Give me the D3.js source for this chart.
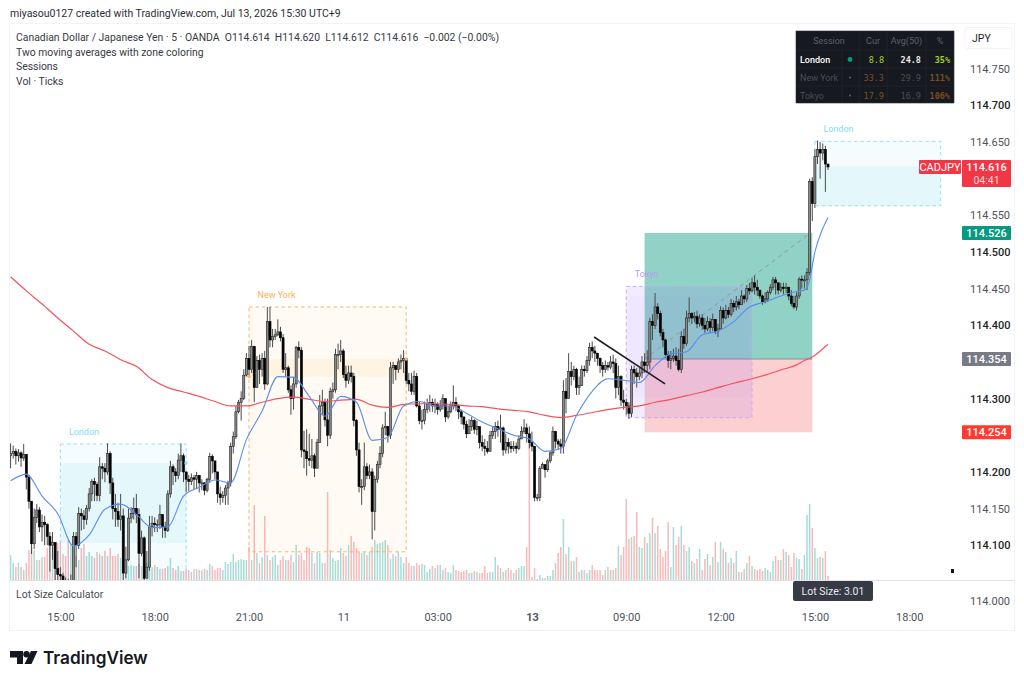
<!DOCTYPE html>
<html>
<head>
<meta charset="utf-8">
<title>CADJPY 5m</title>
<script src="https://cdnjs.cloudflare.com/ajax/libs/d3/7.8.5/d3.min.js"></script>
<style>
  html, body { margin: 0; padding: 0; background: #fff; }
  svg { display: block; }
  text { font-family: Roboto, "Open Sans", sans-serif; }
</style>
</head>
<body>
<svg id="chart" width="1024" height="684"></svg>
<script>
// All prices are in points above 114.000 (236 means 114.236).
const closes = [
  225,228,222,226,219,224,193,160,102,138,148,125,131,128,112,100,104,68,60,58,
  52,50,48,52,112,100,143,140,135,150,170,187,183,168,207,205,200,225,185,150,
  146,135,140,62,80,137,143,150,142,89,110,55,70,125,130,128,128,142,125,120,
  170,207,200,195,216,222,200,190,187,192,190,195,185,185,175,190,221,215,200,170,
  165,168,178,185,235,248,282,295,300,332,355,340,371,315,352,340,355,320,405,380,
  385,387,391,383,340,342,312,300,320,370,366,230,228,218,216,222,205,240,290,295,
  271,250,310,312,360,360,365,333,325,335,330,270,230,180,180,207,195,200,146,190,
  210,225,260,262,250,342,345,340,350,352,355,325,320,310,330,290,270,270,285,292,
  295,290,292,285,290,300,275,282,290,295,290,282,275,265,252,262,270,258,262,240,
  235,232,228,250,255,262,258,260,230,240,235,232,235,232,245,255,260,252,240,235,
  165,165,205,210,203,215,226,255,242,238,235,310,300,337,330,340,315,318,340,338,
  352,370,365,362,355,345,340,345,343,350,348,315,330,298,295,290,280,340,335,330,
  335,350,345,350,405,400,425,416,390,380,360,352,355,358,352,340,385,375,410,416,
  410,412,402,410,400,395,405,397,408,392,395,420,410,420,415,430,425,432,428,440,
  436,450,447,458,452,448,440,432,436,445,452,462,458,448,452,450,452,440,430,425,
  440,463,462,462,472,596,566,630,640,635,640,620,616
];
const highs = [
  239,236,232,231,228,238,200,196,157,150,156,152,142,140,130,118,118,100,92,70,
  62,56,54,60,118,118,152,150,148,155,178,190,192,186,220,212,212,239,228,192,
  170,158,170,150,98,150,152,165,170,150,120,112,92,140,140,138,135,155,140,132,
  175,215,210,205,225,239,225,196,196,198,196,200,196,190,186,192,226,224,208,180,
  180,174,182,188,240,255,290,298,310,340,362,372,380,372,358,360,362,365,425,425,
  395,395,408,398,388,362,345,318,330,372,378,370,256,258,252,245,225,245,305,312,
  300,300,315,322,368,375,380,368,345,345,345,335,272,240,190,240,212,210,205,195,
  215,235,265,282,262,350,350,345,355,360,366,355,335,335,338,335,296,285,296,300,
  305,300,300,295,298,306,288,290,296,318,302,292,285,275,270,272,275,272,270,255,
  250,245,242,256,262,268,270,278,262,252,246,242,242,240,250,262,272,266,262,255,
  235,170,208,213,208,218,228,262,256,245,245,325,328,362,350,345,342,330,345,345,
  358,376,378,372,362,356,350,352,350,358,360,355,345,332,312,300,295,345,345,342,
  342,358,362,366,410,415,444,430,420,395,382,365,365,368,370,368,392,395,420,438,
  418,418,420,415,415,410,412,410,416,408,402,426,424,428,425,436,434,440,436,448,
  442,455,458,465,468,462,448,442,445,448,456,466,466,458,458,458,458,452,448,440,
  445,466,468,468,478,600,602,640,652,650,648,645,620
];
const lows = [
  205,218,210,214,207,215,176,150,88,95,130,118,105,100,100,64,80,40,40,40,
  40,40,40,40,48,70,95,120,122,128,146,160,160,160,160,190,186,196,170,135,
  125,125,120,50,55,78,130,135,130,55,85,52,58,65,112,118,118,122,110,110,
  118,165,182,186,190,200,186,172,174,182,176,178,172,175,168,172,185,198,190,158,
  155,158,155,155,180,225,245,280,270,298,330,332,335,295,318,320,330,312,318,370,
  370,380,385,378,335,330,308,278,285,315,355,220,205,195,208,205,193,210,240,278,
  262,235,245,300,308,340,350,328,315,320,322,262,222,172,155,175,190,190,108,120,
  185,205,220,250,240,245,320,325,335,340,335,320,310,305,305,288,265,258,265,280,
  282,282,280,278,282,285,268,272,280,285,283,272,265,258,246,252,256,252,250,232,
  228,222,225,228,245,245,248,240,222,225,225,226,228,225,230,248,252,240,232,228,
  160,160,160,205,192,200,212,222,232,230,225,225,280,300,318,325,305,305,318,330,
  335,345,355,350,345,335,330,335,338,340,335,300,305,290,285,278,272,275,320,315,
  325,328,335,335,340,380,395,408,385,370,355,342,340,350,345,337,335,368,372,404,
  402,404,396,398,394,390,392,390,392,388,384,395,402,408,410,412,418,420,422,428,
  430,432,442,445,442,440,436,428,430,432,442,448,442,442,445,442,444,434,426,422,
  420,436,450,450,448,468,542,560,620,600,625,582,612
];
const firstOpen = 222;
const volumes = [
  25,17,13,17,13,10,17,30,33,30,20,20,23,23,32,40,33,27,37,40,
  26,24,40,36,32,24,20,32,36,24,28,24,22,28,26,24,29,24,32,24,
  24,26,22,20,18,14,15,14,14,16,14,14,17,16,13,15,13,11,11,12,
  14,22,12,10,14,9,9,11,10,8,11,11,10,10,11,10,16,14,10,12,
  12,10,18,16,18,26,18,20,21,20,20,33,20,75,27,17,23,64,25,20,
  23,25,15,20,24,20,20,25,18,35,25,27,20,33,32,27,17,28,27,17,
  17,88,30,22,19,20,32,27,24,35,44,38,32,28,27,28,25,28,33,40,
  36,37,38,40,35,21,26,24,28,23,17,23,17,14,14,17,15,16,15,8,
  11,14,12,15,15,10,12,8,7,15,10,9,8,9,10,7,7,9,8,7,
  7,14,7,8,8,23,15,12,8,10,12,10,7,10,12,14,14,33,137,3,
  12,1,5,2,2,4,4,10,17,27,33,61,26,33,19,19,23,8,10,10,
  7,10,15,10,10,10,5,10,13,10,10,12,34,25,33,81,41,43,44,68,
  33,32,43,37,47,62,47,54,31,23,29,58,13,53,35,43,54,35,29,33,
  19,17,21,31,10,21,26,15,23,38,18,38,31,28,17,22,17,29,8,8,
  11,17,24,14,11,10,11,9,12,10,8,19,24,20,20,31,28,25,13,27,
  22,21,11,25,65,76,52,32,22,23,22,29,4
];

// Moving averages, read every few bars.
const maBars = [
  0,6,12,18,24,30,36,42,48,54,60,66,72,78,84,90,96,102,108,114,120,126,132,138,144,150,
  156,162,168,174,180,186,192,198,204,210,216,222,228,234,240,246,252,258,264,270,276,
  282,288,294,300,303,305,307,310,312
];
const maFast = [
  188,197,167,143,99,114,149,156,142,124,125,167,179,189,185,244,283,330,329,303,276,303,295,243,247,290,
  296,290,290,280,268,259,250,245,228,232,277,310,327,325,322,345,361,364,387,392,405,
  425,432,440,446,448,462,500,532,547
];
const maSlow = [
  466,447,429,410,392,374,365,353,344,326,315,309,303,296,290,290,295,300,302,299,296,298,299,291,288,292,
  293,293,292,290,289,286,284,282,277,274,277,281,285,288,290,295,299,304,309,315,321,
  326,332,339,346,352,355,359,368,374
];

// Session boxes.
const sessionNames     = [ 'London', 'New York', 'Tokyo', 'London' ];
const sessionStart     = [ 19, 91, 235, 307 ];
const sessionEnd       = [ 67, 151, 283, 355 ];
const sessionHigh      = [ 238, 425, 453, 651 ];
const sessionLow       = [ 40, 91, 274, 563 ];
const sessionBandHigh  = [ 212, 354, 440, 617 ];
const sessionBandLow   = [ 103, 330, 302, 563 ];

// Small session-open markers on the box edges.
const markerSession = [ 0, 1, 1 ];
const markerBar     = [ 67, 91, 151 ];
const markerPrice   = [ 212, 330, 354 ];

// Long position tool and trend line.
const positionBars  = [ 242, 306 ];
const positionTakeProfit = 526;
const positionEntry      = 354;
const positionStop       = 254;
const trendBars   = [ 222.7, 249.8 ];
const trendPrices = [ 384, 320 ];

const priceTicks      = [ 750, 700, 650, 550, 500, 450, 400, 300, 200, 150, 100 ];
const strongTicks     = [ 700, 500, 400, 300, 200, 100 ];
const timeTickBars    = [ 19, 55, 91, 127, 163, 199, 235, 271, 307, 343 ];
const timeTickLabels  = [ '15:00', '18:00', '21:00', '11', '03:00', '13', '09:00', '12:00', '15:00', '18:00' ];

const legendLines = [
  'Canadian Dollar / Japanese Yen · 5 · OANDA  O114.614  H114.620  L114.612  C114.616  −0.002 (−0.00%)',
  'Two moving averages with zone coloring',
  'Sessions',
  'Vol · Ticks'
];

const tableHeaders = [ 'Session', 'Cur', 'Avg(50)', '%' ];
const tableNames   = [ 'London', 'New York', 'Tokyo' ];
const tableCur     = [ '8.8', '33.3', '17.9' ];
const tableAvg     = [ '24.8', '29.9', '16.9' ];
const tablePct     = [ '35%', '111%', '106%' ];

const svg = d3.select( '#chart' );

// Scales
const x    = d3.scaleLinear().domain( [ 0, 312 ] ).range( [ 10.6, 828 ] );
const y    = d3.scaleLinear().domain( [ 0, 750 ] ).range( [ 618.5, 68.75 ] );
const vol  = d3.scaleLinear().domain( [ 0, 137 ] ).range( [ 580, 443 ] );
const priceText = d => ( 114 + d / 1000 ).toFixed( 3 );

const bars = closes.map( ( c, i ) => ( {
  i,
  open  : i ? closes[ i - 1 ] : firstOpen,
  close : c,
  high  : highs[ i ],
  low   : lows[ i ],
  volume: volumes[ i ]
} ) );

// Frame around the chart.
svg.append( 'rect' )
  .attr( 'x', 9.5 ).attr( 'y', 23.5 ).attr( 'width', 1005 ).attr( 'height', 607 )
  .attr( 'fill', '#fff' ).attr( 'stroke', '#f0f3fa' );
svg.append( 'line' )
  .attr( 'x1', 10 ).attr( 'x2', 1015 ).attr( 'y1', 580.5 ).attr( 'y2', 580.5 )
  .attr( 'stroke', '#e0e3eb' );

svg.append( 'defs' ).append( 'clipPath' ).attr( 'id', 'pane' )
  .append( 'rect' ).attr( 'x', 10 ).attr( 'y', 24 ).attr( 'width', 950 ).attr( 'height', 556 );
const pane = svg.append( 'g' ).attr( 'clip-path', 'url(#pane)' );

// Position tool zones.
const posX = x( positionBars[ 0 ] ), posW = x( positionBars[ 1 ] ) - posX;
pane.append( 'rect' )
  .attr( 'x', posX ).attr( 'width', posW )
  .attr( 'y', y( positionTakeProfit ) ).attr( 'height', y( positionEntry ) - y( positionTakeProfit ) )
  .attr( 'fill', '#91d2c7' );
pane.append( 'rect' )
  .attr( 'x', posX ).attr( 'width', posW )
  .attr( 'y', y( positionEntry ) ).attr( 'height', y( positionStop ) - y( positionEntry ) )
  .attr( 'fill', '#fcd0d0' );
pane.append( 'line' )
  .attr( 'x1', posX ).attr( 'x2', posX + posW )
  .attr( 'y1', y( positionEntry ) ).attr( 'y2', y( positionEntry ) )
  .attr( 'stroke', '#8a8f98' ).attr( 'stroke-width', 1 );

// Volume bars sit under everything else.
const isUp = d => d.close >= d.open;
pane.append( 'g' ).selectAll( 'rect' ).data( bars ).join( 'rect' )
  .attr( 'x', d => x( d.i ) - 0.75 )
  .attr( 'width', 1.5 )
  .attr( 'y', d => vol( d.volume ) )
  .attr( 'height', d => 580 - vol( d.volume ) )
  .attr( 'fill', d => isUp( d ) ? '#a6dcd6' : '#fab8b8' );

// Sessions.
const sessionFill   = [ 'rgba(0,188,230,.04)', 'rgba(255,152,0,.045)', 'rgba(150,100,255,.12)', 'rgba(0,188,230,.04)' ];
const sessionBand   = [ 'rgba(0,188,230,.065)', 'rgba(255,152,0,.075)', 'rgba(150,100,255,.03)', 'rgba(0,188,230,.065)' ];
const sessionStroke = [ '#8ce3f5', '#ffb366', '#caa8f5', '#8ce3f5' ];
const sessionText   = [ '#7fdcf2', '#ffb04f', '#b79cf0', '#7fdcf2' ];
sessionNames.forEach( ( name, i ) => {
  const left = x( sessionStart[ i ] ), right = x( sessionEnd[ i ] );
  pane.append( 'rect' )
    .attr( 'x', left ).attr( 'width', right - left )
    .attr( 'y', y( sessionBandHigh[ i ] ) )
    .attr( 'height', y( sessionBandLow[ i ] ) - y( sessionBandHigh[ i ] ) )
    .attr( 'fill', sessionBand[ i ] );
  pane.append( 'rect' )
    .attr( 'x', left ).attr( 'width', right - left )
    .attr( 'y', y( sessionHigh[ i ] ) )
    .attr( 'height', y( sessionLow[ i ] ) - y( sessionHigh[ i ] ) )
    .attr( 'fill', sessionFill[ i ] )
    .attr( 'stroke', sessionStroke[ i ] )
    .attr( 'stroke-dasharray', '3.5,3' );
  pane.append( 'text' )
    .attr( 'x', left + 8.5 ).attr( 'y', y( sessionHigh[ i ] ) - 9 )
    .attr( 'font-size', 9 )
    .attr( 'fill', sessionText[ i ] )
    .text( name );
} );

// Take-profit diagonal of the position tool.
pane.append( 'line' )
  .attr( 'x1', posX ).attr( 'y1', y( positionEntry ) )
  .attr( 'x2', posX + posW - 2 ).attr( 'y2', y( positionTakeProfit ) )
  .attr( 'stroke', '#8f969c' ).attr( 'stroke-dasharray', '4,4' );

// Candles.
const candles = pane.append( 'g' ).selectAll( 'g' ).data( bars ).join( 'g' );
candles.append( 'line' )
  .attr( 'x1', d => x( d.i ) ).attr( 'x2', d => x( d.i ) )
  .attr( 'y1', d => y( d.high ) ).attr( 'y2', d => y( d.low ) )
  .attr( 'stroke', '#4a4a4a' ).attr( 'stroke-width', 1 );
candles.append( 'rect' )
  .attr( 'x', d => x( d.i ) - 1.05 )
  .attr( 'width', 2.1 )
  .attr( 'y', d => y( Math.max( d.open, d.close ) ) )
  .attr( 'height', d => Math.max( 1, Math.abs( y( d.open ) - y( d.close ) ) ) )
  .attr( 'fill', d => isUp( d ) ? '#8a8a8a' : '#000' )
  .attr( 'stroke', d => isUp( d ) ? '#222' : '#000' )
  .attr( 'stroke-width', .6 );

// Session markers.
pane.append( 'g' ).selectAll( 'circle' ).data( markerBar ).join( 'circle' )
  .attr( 'cx', d => x( d ) )
  .attr( 'cy', ( d, i ) => y( markerPrice[ i ] ) )
  .attr( 'r', 1.8 )
  .attr( 'fill', ( d, i ) => sessionStroke[ markerSession[ i ] ] );

// Moving averages.
const maLine = d3.line().x( ( d, i ) => x( maBars[ i ] ) ).y( d => y( d ) ).curve( d3.curveMonotoneX );
pane.append( 'path' ).attr( 'd', maLine( maSlow ) ).attr( 'fill', 'none' ).attr( 'stroke', '#f2545b' ).attr( 'stroke-width', 1.2 );
pane.append( 'path' ).attr( 'd', maLine( maFast ) ).attr( 'fill', 'none' ).attr( 'stroke', '#5b8def' ).attr( 'stroke-width', 1.1 );

// Trend line.
pane.append( 'line' )
  .attr( 'x1', x( trendBars[ 0 ] ) ).attr( 'y1', y( trendPrices[ 0 ] ) )
  .attr( 'x2', x( trendBars[ 1 ] ) ).attr( 'y2', y( trendPrices[ 1 ] ) )
  .attr( 'stroke', '#1e1e24' ).attr( 'stroke-width', 1.6 );

// Price axis.
const priceAxis = d3.axisRight( y )
  .tickValues( priceTicks )
  .tickSize( 0 )
  .tickFormat( priceText );
const priceG = svg.append( 'g' ).attr( 'transform', 'translate( 967, 0 )' ).call( priceAxis );
priceG.select( '.domain' ).remove();
priceG.selectAll( 'text' )
  .attr( 'x', 3 )
  .attr( 'font-size', 11 )
  .attr( 'font-weight', d => strongTicks.includes( d ) ? 500 : 400 )
  .attr( 'fill', d => strongTicks.includes( d ) ? '#1c1f28' : '#50535e' );
svg.append( 'text' )
  .attr( 'x', 970 ).attr( 'y', 601 ).attr( 'dy', '.32em' )
  .attr( 'font-size', 11 ).attr( 'fill', '#50535e' )
  .text( priceText( 0 ) );

// Time axis.
const timeAxis = d3.axisBottom( x )
  .tickValues( timeTickBars )
  .tickSize( 0 )
  .tickFormat( ( d, i ) => timeTickLabels[ i ] );
const timeG = svg.append( 'g' ).attr( 'transform', 'translate( 0, 610 )' ).call( timeAxis );
timeG.select( '.domain' ).remove();
timeG.selectAll( 'text' )
  .attr( 'font-size', 11 )
  .attr( 'fill', '#50535e' )
  .attr( 'font-weight', ( d, i ) => timeTickLabels[ i ] === '13' ? 700 : 400 );

// Price tags on the right.
const priceTag = ( price, fill ) => {
  svg.append( 'rect' )
    .attr( 'x', 962 ).attr( 'y', y( price ) - 7 ).attr( 'width', 49 ).attr( 'height', 14 ).attr( 'rx', 1 )
    .attr( 'fill', fill );
  svg.append( 'text' )
    .attr( 'x', 986.5 ).attr( 'y', y( price ) ).attr( 'dy', '.35em' )
    .attr( 'text-anchor', 'middle' ).attr( 'font-size', 11 ).attr( 'font-weight', 500 ).attr( 'fill', '#fff' )
    .text( priceText( price ) );
};
priceTag( positionTakeProfit, '#089981' );
priceTag( positionEntry, '#787b86' );
priceTag( positionStop, '#ff3b30' );

// Last price tag with countdown.
const lastPrice = closes[ closes.length - 1 ];
svg.append( 'rect' )
  .attr( 'x', 919 ).attr( 'y', y( lastPrice ) - 7 ).attr( 'width', 42 ).attr( 'height', 14 ).attr( 'rx', 1 )
  .attr( 'fill', '#f23645' );
svg.append( 'text' )
  .attr( 'x', 940 ).attr( 'y', y( lastPrice ) ).attr( 'dy', '.35em' )
  .attr( 'text-anchor', 'middle' ).attr( 'font-size', 11 ).attr( 'fill', '#fff' )
  .text( 'CADJPY' );
svg.append( 'rect' )
  .attr( 'x', 962 ).attr( 'y', y( lastPrice ) - 7 ).attr( 'width', 49 ).attr( 'height', 27 ).attr( 'rx', 1 )
  .attr( 'fill', '#f23645' );
svg.append( 'text' )
  .attr( 'x', 986.5 ).attr( 'y', y( lastPrice ) ).attr( 'dy', '.35em' )
  .attr( 'text-anchor', 'middle' ).attr( 'font-size', 11 ).attr( 'font-weight', 500 ).attr( 'fill', '#fff' )
  .text( priceText( lastPrice ) );
svg.append( 'text' )
  .attr( 'x', 986.5 ).attr( 'y', y( lastPrice ) + 13 ).attr( 'dy', '.35em' )
  .attr( 'text-anchor', 'middle' ).attr( 'font-size', 10.5 ).attr( 'fill', '#ffd5d8' )
  .text( '04:41' );

// Header and legend.
svg.append( 'text' )
  .attr( 'x', 10 ).attr( 'y', 17 ).attr( 'font-size', 10.5 ).attr( 'fill', '#2a2e39' )
  .text( 'miyasou0127 created with TradingView.com, Jul 13, 2026 15:30 UTC+9' );
svg.append( 'g' ).selectAll( 'text' ).data( legendLines ).join( 'text' )
  .attr( 'x', 16 ).attr( 'y', ( d, i ) => 41 + i * 14.7 )
  .attr( 'font-size', 10.4 ).attr( 'fill', '#363a45' )
  .attr( 'xml:space', 'preserve' )
  .text( d => d );
svg.append( 'text' )
  .attr( 'x', 16 ).attr( 'y', 598 ).attr( 'font-size', 10.5 ).attr( 'fill', '#4a4d57' )
  .text( 'Lot Size Calculator' );

// Currency box.
svg.append( 'rect' )
  .attr( 'x', 965 ).attr( 'y', 27.5 ).attr( 'width', 47 ).attr( 'height', 21 ).attr( 'rx', 3 )
  .attr( 'fill', '#fff' ).attr( 'stroke', '#f0f3fa' );
svg.append( 'text' )
  .attr( 'x', 972 ).attr( 'y', 42 ).attr( 'font-size', 10.5 ).attr( 'fill', '#1c1f28' )
  .text( 'JPY' );

// Session statistics table.
const table = svg.append( 'g' );
const colEdges = [ 796, 842, 859, 887, 926, 954 ];
const rowEdges = [ 31, 50, 68, 86, 103 ];
table.append( 'rect' )
  .attr( 'x', 796 ).attr( 'y', 31 ).attr( 'width', 158 ).attr( 'height', 72 )
  .attr( 'fill', '#16191f' ).attr( 'stroke', '#2a2e39' ).attr( 'stroke-width', .6 );
rowEdges.slice( 1, -1 ).forEach( v => table.append( 'line' )
  .attr( 'x1', 796 ).attr( 'x2', 954 ).attr( 'y1', v ).attr( 'y2', v )
  .attr( 'stroke', '#262a33' ).attr( 'stroke-width', .6 ) );
colEdges.slice( 1, -1 ).forEach( ( v, k ) => table.append( 'line' )
  .attr( 'x1', v ).attr( 'x2', v ).attr( 'y1', k === 0 ? 50 : 31 ).attr( 'y2', 103 )
  .attr( 'stroke', '#262a33' ).attr( 'stroke-width', .6 ) );
const headerX = [ 829, 873, 906.5, 940 ];
tableHeaders.forEach( ( h, k ) => table.append( 'text' )
  .attr( 'x', headerX[ k ] ).attr( 'y', 44 )
  .attr( 'text-anchor', 'middle' ).attr( 'font-size', 9 ).attr( 'fill', '#5d606b' )
  .text( h ) );
const monoCell = ( text, cx, cy, fill, weight ) => table.append( 'text' )
  .attr( 'x', cx ).attr( 'y', cy ).attr( 'text-anchor', 'end' )
  .attr( 'font-size', 8.5 ).attr( 'fill', fill ).attr( 'font-weight', weight || 400 )
  .style( 'font-family', '"DejaVu Sans Mono", monospace' )
  .text( text );
tableNames.forEach( ( name, r ) => {
  const base = rowEdges[ r + 1 ] + 12.5;
  const live = r === 0;
  table.append( 'text' )
    .attr( 'x', 800 ).attr( 'y', base ).attr( 'font-size', 9 )
    .attr( 'fill', live ? '#ffffff' : '#4a4d57' ).attr( 'font-weight', live ? 500 : 400 )
    .text( name );
  table.append( 'circle' )
    .attr( 'cx', 850 ).attr( 'cy', base - 3 ).attr( 'r', live ? 2.4 : 1 )
    .attr( 'fill', live ? '#089981' : '#5d606b' );
  monoCell( tableCur[ r ], 884, base, live ? '#a2d02d' : '#7c4f1c' );
  monoCell( tableAvg[ r ], 921, base, live ? '#e8e8ea' : '#4a4d57', live ? 700 : 400 );
  monoCell( tablePct[ r ], 950, base, live ? '#a2d02d' : '#7c4f1c', 700 );
} );

// Lot size badge and stray marker.
svg.append( 'rect' )
  .attr( 'x', 793 ).attr( 'y', 581 ).attr( 'width', 80 ).attr( 'height', 20 ).attr( 'rx', 2 )
  .attr( 'fill', '#363a45' );
svg.append( 'text' )
  .attr( 'x', 833 ).attr( 'y', 595 ).attr( 'text-anchor', 'middle' )
  .attr( 'font-size', 10.5 ).attr( 'fill', '#e8e8ea' )
  .text( 'Lot Size: 3.01' );
svg.append( 'rect' )
  .attr( 'x', 951 ).attr( 'y', 569 ).attr( 'width', 3 ).attr( 'height', 4 )
  .attr( 'fill', '#111' );

// Logo.
const logo = svg.append( 'g' ).attr( 'fill', '#131722' );
logo.append( 'path' ).attr( 'd', 'M10 651H23V664H17V657.5H10Z' );
logo.append( 'circle' ).attr( 'cx', 26.5 ).attr( 'cy', 654.2 ).attr( 'r', 3.2 );
logo.append( 'path' ).attr( 'd', 'M31 651H37.5L31.5 664H24.5Z' );
logo.append( 'text' )
  .attr( 'x', 43 ).attr( 'y', 664 )
  .attr( 'font-size', 17.2 ).attr( 'font-weight', 600 )
  .style( 'font-family', 'Inter, sans-serif' )
  .text( 'TradingView' );
</script>
</body>
</html>
